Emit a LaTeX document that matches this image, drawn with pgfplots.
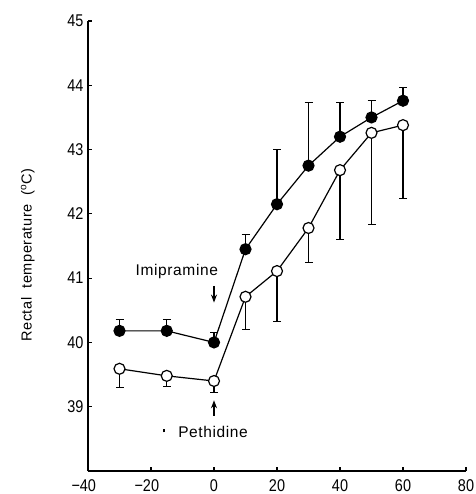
\documentclass[border=0pt]{standalone}
\usepackage{fontspec}
\setmainfont{Liberation Sans}[LetterSpace=4]
\newfontfamily\tickfont{Liberation Sans}[FakeStretch=0.85]
\usepackage{pgfplots}
\pgfplotsset{compat=1.18}
\usetikzlibrary{arrows.meta}

\begin{document}
\begin{tikzpicture}
\begin{axis}[
    scale only axis,
    width=378pt, height=450pt,
    xmin=-40, xmax=80, ymin=38, ymax=45,
    axis lines=left,
    axis line style={-, line width=1.6pt},
    xtick={-40,-20,0,20,40,60,80},
    xticklabels={\llap{−}40,\llap{−}20,0,20,40,60,80},
    ytick={39,40,41,42,43,44,45},
    tick align=inside,
    major tick length=4pt,
    tick style={line width=1.2pt, black},
    /pgf/number format/assume math mode=true,
    tick label style={font=\tickfont\fontsize{17}{17}\selectfont},
    xticklabel style={yshift=-5pt},
    yticklabel style={xshift=-1pt},
    ylabel={Rectal\ \ temperature\ \ (\textsuperscript{o}C)},
    ylabel style={font=\fontsize{14.5}{16}\selectfont, yshift=26pt, xshift=-9pt},
    clip=false,
]
% open circles: pethidine alone (lower SE shown)
\addplot[black, line width=1.2pt, mark=*, mark size=5.5pt,
    mark options={fill=white, line width=1.2pt},
    error bars/.cd, y dir=minus, y explicit,
    error bar style={line width=1.1pt},
    error mark options={rotate=90, mark size=4pt, line width=1.1pt}]
coordinates {
    (-30,39.59) -= (0,0.29)
    (-15,39.48) -= (0,0.16)
    (0,39.40)   -= (0,0.18)
    (10,40.71)  -= (0,0.51)
    (20,41.11)  -= (0,0.79)
    (30,41.78)  -= (0,0.53)
    (40,42.68)  -= (0,1.08)
    (50,43.26)  -= (0,1.43)
    (60,43.38)  -= (0,1.14)
};
% filled circles: imipramine + pethidine (upper SE shown)
\addplot[black, line width=1.2pt, mark=*, mark size=5.5pt,
    mark options={fill=black},
    error bars/.cd, y dir=plus, y explicit,
    error bar style={line width=1.1pt},
    error mark options={rotate=90, mark size=4pt, line width=1.1pt}]
coordinates {
    (-30,40.18) += (0,0.17)
    (-15,40.18) += (0,0.17)
    (0,40.00)   += (0,0.15)
    (10,41.45)  += (0,0.23)
    (20,42.15)  += (0,0.85)
    (30,42.75)  += (0,0.98)
    (40,43.20)  += (0,0.53)
    (50,43.50)  += (0,0.26)
    (60,43.76)  += (0,0.21)
};
% drug markers
\node[font=\fontsize{15.5}{18}\selectfont] at (axis cs:-11.8,41.1) {Imipramine};
\draw[line width=1.3pt, -{Stealth[length=8pt,width=6pt]}] (axis cs:0,40.88) -- (axis cs:0,40.62);
\node[font=\fontsize{15.5}{18}\selectfont] at (axis cs:-0.3,38.6) {Pethidine};
\draw[line width=1.3pt, -{Stealth[length=8pt,width=6pt]}] (axis cs:0,38.86) -- (axis cs:0,39.1);
\draw[line width=1.2pt] (axis cs:-15.9,38.6) -- (axis cs:-15.9,38.66);
\end{axis}
\pgfresetboundingbox
\path (-88pt,-23pt) rectangle (387pt,471pt);
\end{tikzpicture}
\end{document}
